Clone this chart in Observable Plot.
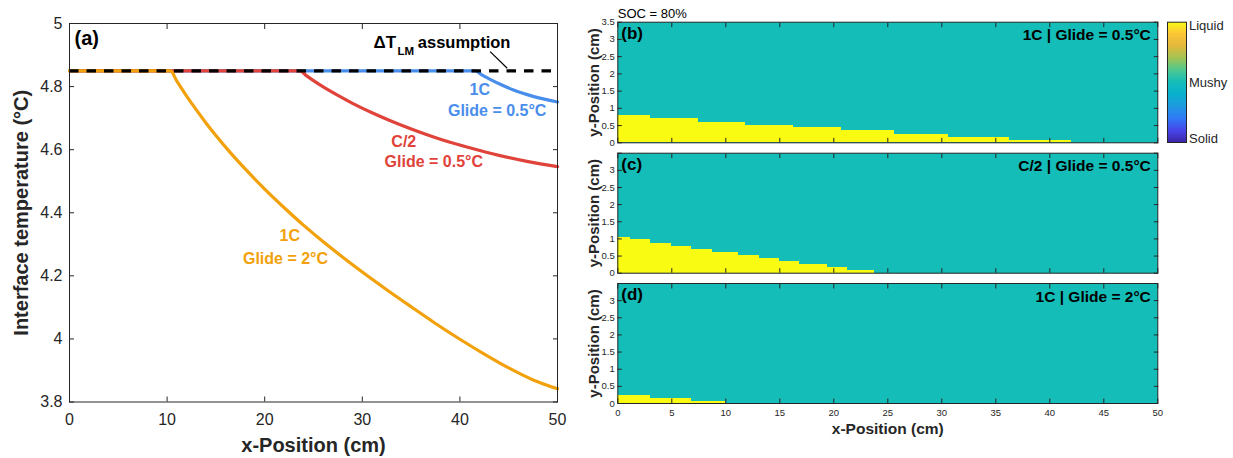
<!DOCTYPE html>
<html>
<head>
<meta charset="utf-8">
<script src="https://cdn.jsdelivr.net/npm/d3@7"></script>
<script src="https://cdn.jsdelivr.net/npm/@observablehq/plot@0.6"></script>
<style>
  body { margin: 0; background: #fff; }
  #wrap { position: relative; width: 1233px; height: 458px; overflow: hidden; background: #fff; }
  #wrap > div { position: absolute; }
  #wrap svg { overflow: visible; }
</style>
</head>
<body>
<div id="wrap"></div>
<script>
// ---------------- DATA ----------------
// Panel (a): interface temperature along x
const xCurve1C05 = [0, 41.6, 42.2, 43.1, 44.3, 45.5, 47.5, 50];
const tCurve1C05 = [4.85, 4.85, 4.838, 4.823, 4.805, 4.789, 4.769, 4.751];
const xCurveC2 = [0, 23.6, 24.3, 25, 26, 27.5, 29, 31, 33, 35.5, 38, 41, 44, 47, 50];
const tCurveC2 = [4.85, 4.85, 4.834, 4.819, 4.799, 4.772, 4.747, 4.717, 4.690, 4.660, 4.633, 4.606, 4.582, 4.562, 4.546];
const xCurve1C2 = [0, 10.35, 11, 12, 13, 14, 15, 16.5, 18, 20, 22, 24, 26, 28, 30, 32.5, 35, 37.5, 40, 42.5, 45, 47.5, 50];
const tCurve1C2 = [4.85, 4.85, 4.817, 4.770, 4.726, 4.684, 4.645, 4.590, 4.539, 4.475, 4.416, 4.360, 4.308, 4.259, 4.212, 4.156, 4.102, 4.049, 3.999, 3.952, 3.908, 3.870, 3.842];
const assumptionT = [4.85];

const tempTicks = [3.8, 4, 4.2, 4.4, 4.6, 4.8, 5];
const xTicksA = [0, 10, 20, 30, 40, 50];

// Panels (b)-(d): liquid region (steps), edges in cm and liquid height in cm
const edgesB = [0, 3.0, 7.45, 11.85, 16.3, 20.7, 25.65, 30.65, 36.3, 42.0];
const liquidB = [0.79, 0.70, 0.60, 0.51, 0.43, 0.35, 0.25, 0.165, 0.075];
const edgesC = [0, 1.18, 3.03, 4.97, 6.82, 8.74, 11.2, 13.12, 14.97, 16.85, 19.4, 21.25, 23.8];
const liquidC = [1.04, 0.97, 0.875, 0.79, 0.70, 0.61, 0.52, 0.44, 0.35, 0.25, 0.175, 0.09];
const edgesD = [0, 3.03, 6.82, 9.97];
const liquidD = [0.24, 0.155, 0.07];

const yPosTicks = [0, 0.5, 1, 1.5, 2, 2.5, 3, 3.5];
const xPosTicks = [0, 5, 10, 15, 20, 25, 30, 35, 40, 45, 50];

const phaseTickVals = [0.033, 0.5, 0.967];
const phaseLabels = ["Solid", "Mushy", "Liquid"];

// parula-like colormap stops
const parulaStops = ["#3E26A8", "#4746EB", "#2F7BF6", "#1E9AE0", "#08B1CB", "#14BDB8", "#4FC78F", "#A3C452", "#E3B93B", "#FBC537", "#F9FB15"];

// ---------------- STYLE ----------------
const fontFam = '"Liberation Sans", Arial, Helvetica, sans-serif';
const ink = "#262626";
const cOrange = "#F2A10A";
const cRed = "#E0433A";
const cBlue = "#4A8EEC";
const cTeal = "#14BDB8";
const cYellow = "#F9FB12";
const fmt = d3.format("~g");
const baseStyle = {fontFamily: fontFam, fontSize: "16px", color: ink, background: "transparent", overflow: "visible"};

const wrap = document.getElementById("wrap");
function place(el, left, top, w, h) {
  const d = document.createElement("div");
  d.style.left = left + "px"; d.style.top = top + "px";
  d.style.width = w + "px"; d.style.height = h + "px";
  d.appendChild(el);
  wrap.appendChild(d);
}

function inwardAxes({xTicks, yTicks, xFmt, yFmt, len, fontSize, xPad, yPad}) {
  const blank = () => "";
  return [
    Plot.axisX(xTicks, {anchor: "bottom", tickSize: len, dy: -len, tickPadding: xPad, tickFormat: xFmt ?? blank, label: null, fontSize}),
    Plot.axisX(xTicks, {anchor: "top", tickSize: len, dy: len, tickFormat: blank, label: null}),
    Plot.axisY(yTicks, {anchor: "left", tickSize: len, dx: len, tickPadding: yPad, tickFormat: yFmt ?? blank, label: null, fontSize}),
    Plot.axisY(yTicks, {anchor: "right", tickSize: len, dx: -len, tickFormat: blank, label: null})
  ];
}

const toRows = (xs, ts) => xs.map((x, i) => ({x, t: ts[i]}));

// ---------------- PANEL (a) ----------------
const bold = {fontWeight: "bold", fontSize: 16, lineAnchor: "middle"};
const panelA = Plot.plot({
  width: 590, height: 458,
  marginLeft: 69, marginRight: 33, marginTop: 23, marginBottom: 56.5,
  x: {domain: [0, 50]},
  y: {domain: [3.8, 5]},
  style: baseStyle,
  marks: [
    Plot.line(toRows(xCurve1C05, tCurve1C05), {x: "x", y: "t", stroke: cBlue, strokeWidth: 3.2, curve: "monotone-x"}),
    Plot.line(toRows(xCurveC2, tCurveC2), {x: "x", y: "t", stroke: cRed, strokeWidth: 3.2, curve: "monotone-x"}),
    Plot.line(toRows(xCurve1C2, tCurve1C2), {x: "x", y: "t", stroke: cOrange, strokeWidth: 3.2, curve: "monotone-x"}),
    Plot.ruleY(assumptionT, {stroke: "#000", strokeWidth: 3.2, strokeDasharray: "9.5,8"}),
    Plot.link([0], {x1: 43.1, y1: 4.911, x2: 44.85, y2: 4.858, stroke: "#000", strokeWidth: 1.2}),
    Plot.text(["ΔT"], {x: 31.15, y: 4.921, text: d => d, fontWeight: "bold", fontSize: 17, textAnchor: "start", lineAnchor: "bottom", fill: "#000"}),
    Plot.text(["LM"], {x: 33.6, y: 4.900, text: d => d, fontWeight: "bold", fontSize: 11.5, textAnchor: "start", lineAnchor: "bottom", fill: "#000"}),
    Plot.text(["assumption"], {x: 35.69, y: 4.921, text: d => d, fontWeight: "bold", fontSize: 16.5, textAnchor: "start", lineAnchor: "bottom", fill: "#000"}),
    Plot.text(["1C"], {x: 42.04, y: 4.791, text: d => d, ...bold, fill: cBlue}),
    Plot.text(["Glide = 0.5°C"], {x: 43.82, y: 4.723, text: d => d, ...bold, fill: cBlue}),
    Plot.text(["C/2"], {x: 34.25, y: 4.625, text: d => d, ...bold, fill: cRed}),
    Plot.text(["Glide = 0.5°C"], {x: 37.33, y: 4.561, text: d => d, ...bold, fill: cRed}),
    Plot.text(["1C"], {x: 22.57, y: 4.326, text: d => d, ...bold, fill: cOrange}),
    Plot.text(["Glide = 2°C"], {x: 22.13, y: 4.255, text: d => d, ...bold, fill: cOrange}),
    Plot.text(["(a)"], {frameAnchor: "top-left", dx: 5, dy: 15.5, text: d => d, fontWeight: "bold", fontSize: 20, lineAnchor: "middle", textAnchor: "start", fill: "#000"}),
    ...inwardAxes({xTicks: xTicksA, yTicks: tempTicks, xFmt: fmt, yFmt: fmt, len: 5, fontSize: 16, xPad: 12, yPad: 7}),
    Plot.text(["x-Position (cm)"], {frameAnchor: "bottom", dy: 44, text: d => d, fontWeight: "bold", fontSize: 20, lineAnchor: "middle", fill: ink}),
    Plot.text(["Interface temperature (°C)"], {frameAnchor: "left", dx: -42, rotate: -90, text: d => d, fontWeight: "bold", fontSize: 20, lineAnchor: "bottom", textAnchor: "middle", fill: ink}),
    Plot.frame({stroke: ink, strokeWidth: 1})
  ]
});
place(panelA, 0, 0, 590, 458);

// ---------------- PANELS (b)-(d) ----------------
function fieldPanel({edges, liquid, tag, title, height, mt, mb, showX, show35, soc}) {
  const cells = liquid.map((h, i) => ({x1: edges[i], x2: edges[i + 1], h}));
  const yFmt = d => (d === 3.5 && !show35) ? "" : fmt(d);
  const marks = [
    Plot.frame({fill: cTeal, stroke: null}),
    Plot.rect(cells, {x1: "x1", x2: "x2", y1: 0, y2: "h", fill: cYellow, shapeRendering: "crispEdges"}),
    ...inwardAxes({xTicks: xPosTicks, yTicks: yPosTicks, xFmt: showX ? fmt : null, yFmt, len: 4.5, fontSize: 9.5, xPad: 6, yPad: 3}),
    Plot.frame({stroke: ink, strokeWidth: 1}),
    Plot.text([tag], {frameAnchor: "top-left", dx: 3.5, dy: 11, text: d => d, fontWeight: "bold", fontSize: 17, lineAnchor: "middle", textAnchor: "start", fill: "#000"}),
    Plot.text([title], {frameAnchor: "top-right", dx: -7, dy: 13.3, text: d => d, fontWeight: "bold", fontSize: 15.5, lineAnchor: "middle", textAnchor: "end", fill: "#000"}),
    Plot.text(["y-Position (cm)"], {frameAnchor: "left", dx: -19, rotate: -90, text: d => d, fontWeight: "bold", fontSize: 15, lineAnchor: "bottom", textAnchor: "middle", fill: ink})
  ];
  if (showX) marks.push(Plot.text(["x-Position (cm)"], {frameAnchor: "bottom", dy: 26, text: d => d, fontWeight: "bold", fontSize: 15.5, lineAnchor: "middle", fill: ink}));
  if (soc) marks.push(Plot.text([soc], {frameAnchor: "top-left", dy: -8.7, text: d => d, fontSize: 13, lineAnchor: "middle", textAnchor: "start", fill: "#000"}));
  return Plot.plot({
    width: 620, height,
    marginLeft: 57.3, marginRight: 22.7, marginTop: mt, marginBottom: mb,
    x: {domain: [0, 50]},
    y: {domain: [0, 3.5]},
    style: baseStyle,
    marks
  });
}
place(fieldPanel({edges: edgesB, liquid: liquidB, tag: "(b)", title: "1C | Glide = 0.5°C", height: 148, mt: 21.7, mb: 5.7, showX: false, show35: true, soc: "SOC = 80%"}), 560, 0, 620, 148);
place(fieldPanel({edges: edgesC, liquid: liquidC, tag: "(c)", title: "C/2 | Glide = 0.5°C", height: 130, mt: 4.7, mb: 5.3, showX: false, show35: false}), 560, 148, 620, 130);
place(fieldPanel({edges: edgesD, liquid: liquidD, tag: "(d)", title: "1C | Glide = 2°C", height: 180, mt: 5, mb: 55, showX: true, show35: false}), 560, 278, 620, 180);

// ---------------- COLORBAR ----------------
const levels = d3.range(0, 1, 0.005);
const colorbar = Plot.plot({
  width: 73, height: 148,
  marginLeft: 7, marginRight: 47, marginTop: 21.7, marginBottom: 6,
  x: {domain: [0, 1]},
  y: {domain: [0, 1]},
  color: {type: "linear", domain: d3.range(parulaStops.length).map(i => i / (parulaStops.length - 1)), range: parulaStops},
  style: baseStyle,
  marks: [
    Plot.rect(levels, {x1: 0, x2: 1, y1: d => d, y2: d => Math.min(1, d + 0.0055), fill: d => d + 0.0025, shapeRendering: "crispEdges"}),
    Plot.axisY(phaseTickVals, {anchor: "right", tickSize: 0, tickPadding: 2.5, tickFormat: d => phaseLabels[phaseTickVals.indexOf(d)], label: null, fontSize: 13}),
    Plot.axisX([], {label: null, tickSize: 0}),
    Plot.frame({stroke: ink, strokeWidth: 1})
  ]
});
place(colorbar, 1160, 0, 73, 148);
</script>
</body>
</html>
